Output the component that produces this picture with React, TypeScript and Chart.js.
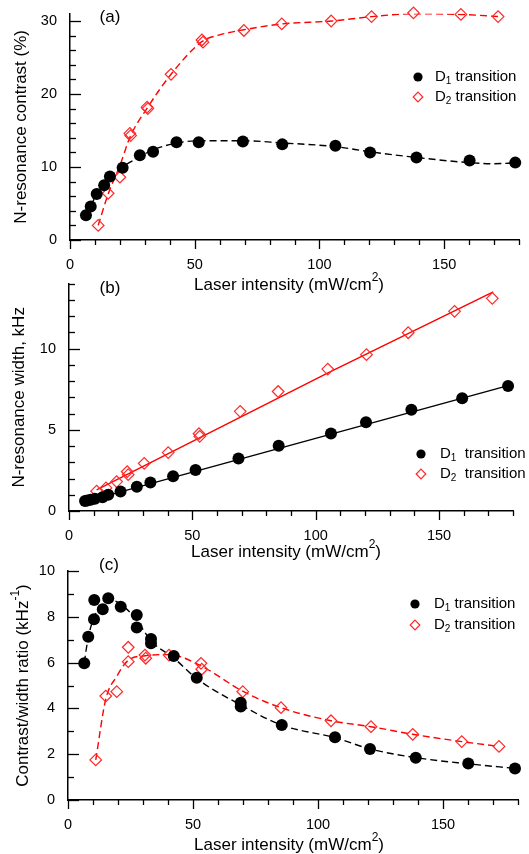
import React, { useEffect, useRef } from 'react';
import { Chart, registerables } from 'chart.js';

Chart.register(...registerables);

// ---------- Panel (a): N-resonance contrast (%) ----------
const a1X = [6.4, 8.3, 10.7, 13.7, 16.0, 21.1, 28.0, 33.3, 42.7, 51.6, 69.3, 85.1, 106.4, 120.3, 138.9, 160.2, 178.5];
const a1Y = [3.4, 4.6, 6.3, 7.5, 8.7, 9.9, 11.6, 12.1, 13.4, 13.4, 13.5, 13.1, 12.9, 12.0, 11.3, 10.9, 10.6];
const a2X = [11.3, 15.3, 20.0, 24.0, 24.3, 30.9, 31.2, 40.5, 52.9, 53.3, 69.7, 84.9, 104.7, 120.9, 137.7, 156.7, 171.6];
const a2Y = [2.0, 6.4, 8.6, 14.6, 14.3, 18.2, 18.0, 22.7, 27.4, 27.1, 28.7, 29.6, 30.0, 30.6, 31.1, 30.9, 30.6];
const fitA1X = [6.4, 8.3, 10.7, 13.7, 16, 21, 28, 33, 43, 52, 69, 85, 106, 120, 139, 160, 170, 178.5];
const fitA1Y = [3.4, 4.7, 6.2, 7.5, 8.6, 10.0, 11.4, 12.3, 13.3, 13.6, 13.6, 13.3, 12.8, 12.1, 11.3, 10.6, 10.45, 10.55];
const fitA2X = [11.3, 15.3, 20, 24.2, 31, 40.5, 53, 60, 69.7, 85, 105, 121, 138, 157, 172];
const fitA2Y = [2.0, 6.3, 10.2, 14.2, 18.1, 22.7, 27.2, 28.1, 28.8, 29.6, 30.0, 30.6, 31.0, 30.9, 30.6];

// ---------- Panel (b): N-resonance width, kHz ----------
const b1X = [6.5, 7.4, 8.8, 10.5, 13.6, 15.9, 20.9, 27.5, 33.0, 42.2, 51.3, 68.7, 85.0, 106.2, 120.4, 138.8, 159.4, 178.0];
const b1Y = [0.61, 0.65, 0.69, 0.75, 0.85, 1.0, 1.2, 1.5, 1.75, 2.14, 2.52, 3.23, 4.02, 4.78, 5.47, 6.24, 6.95, 7.7];
const b2X = [11.2, 15.0, 19.3, 23.6, 24.0, 30.5, 40.2, 52.7, 53.0, 69.4, 84.8, 104.9, 120.6, 137.5, 156.3, 171.6];
const b2Y = [1.22, 1.42, 1.81, 2.42, 2.24, 2.93, 3.6, 4.76, 4.6, 6.14, 7.36, 8.74, 9.63, 10.98, 12.3, 13.1];
const fitB1X = [6.5, 178];
const fitB1Y = [0.58, 7.72];
const fitB2X = [11.2, 105, 172];
const fitB2Y = [1.3, 8.5, 13.5];

// ---------- Panel (c): Contrast/width ratio ----------
const c1X = [6.5, 8.1, 10.4, 10.5, 13.9, 16.1, 21.1, 27.5, 27.5, 33.2, 33.2, 42.3, 51.5, 69.1, 69.1, 85.5, 106.8, 120.8, 139.1, 160.1, 178.8];
const c1Y = [5.97, 7.13, 7.89, 8.73, 8.33, 8.81, 8.44, 8.08, 7.53, 7.03, 6.84, 6.29, 5.34, 4.25, 4.08, 3.27, 2.74, 2.23, 1.85, 1.59, 1.38];
const c2X = [11.1, 15.1, 19.5, 24.1, 24.1, 30.8, 31.1, 40.4, 53.2, 53.5, 69.9, 85.2, 105.2, 121.2, 137.9, 157.5, 172.4];
const c2Y = [1.75, 4.54, 4.73, 6.67, 6.04, 6.33, 6.19, 6.33, 5.97, 5.71, 4.73, 4.03, 3.46, 3.2, 2.87, 2.55, 2.34];
const fitC1X = [6.5, 8.1, 10.5, 13.9, 16.1, 21.1, 27.5, 33.2, 42.3, 51.5, 69.1, 85.5, 106.8, 120.8, 139.1, 160.1, 178.8];
const fitC1Y = [6.0, 7.1, 8.0, 8.55, 8.75, 8.55, 7.85, 6.95, 6.2, 5.3, 4.15, 3.27, 2.72, 2.23, 1.85, 1.58, 1.38];
const fitC2X = [11.1, 15.1, 19.5, 24.1, 30.9, 40.4, 53.3, 69.9, 85.2, 105.2, 121.2, 137.9, 157.5, 172.4];
const fitC2Y = [1.75, 4.4, 5.4, 6.1, 6.3, 6.35, 5.85, 4.75, 4.03, 3.46, 3.2, 2.87, 2.55, 2.34];

// ---------- Axis ticks ----------
const xMin = 0;
const xMax = 180;
const xMajor = 50;
const xMinor = 10;

const FONT = '"Liberation Sans", Arial, Helvetica, sans-serif';
const RED = 'rgb(255,0,0)';
const RED_MK = 'rgb(255,40,40)';

type Part = { t: string; s?: 'sup' | 'sub' };

const xTitleParts: Part[] = [{ t: 'Laser intensity (mW/cm' }, { t: '2', s: 'sup' }, { t: ')' }];

function zip(xs: number[], ys: number[]) {
  return xs.map((x, i) => ({ x, y: ys[i] }));
}

function drawRich(ctx: CanvasRenderingContext2D, parts: Part[], cx: number, cy: number, fs: number, rotate: boolean, align: 'center' | 'left') {
  ctx.save();
  ctx.translate(cx, cy);
  if (rotate) ctx.rotate(-Math.PI / 2);
  ctx.textBaseline = 'middle';
  ctx.textAlign = 'left';
  ctx.fillStyle = '#000';
  let w = 0;
  for (const p of parts) {
    ctx.font = `${p.s ? Math.round(fs * 0.68) : fs}px ${FONT}`;
    w += ctx.measureText(p.t).width;
  }
  let x = align === 'center' ? -w / 2 : 0;
  for (const p of parts) {
    const size = p.s ? Math.round(fs * 0.68) : fs;
    const dy = p.s === 'sup' ? -fs * 0.42 : p.s === 'sub' ? fs * 0.3 : 0;
    ctx.font = `${size}px ${FONT}`;
    ctx.fillText(p.t, x, dy);
    x += ctx.measureText(p.t).width;
  }
  ctx.restore();
}

interface Panel {
  top: number;
  height: number;
  padTop: number;
  padRight: number;
  yWidth: number;
  xHeight: number;
  yMax: number;
  yMajor: number;
  yMinor: number;
  label: string;
  labelX: number;
  labelY: number;
  yTitle: Part[];
  yTitleX: number;
  xTitleX: number;
  xTitleY: number;
  legX: number;
  legY1: number;
  legY2: number;
  legTextX: number;
  legText: string;
  dashed: boolean;
  s1: { x: number; y: number }[];
  s2: { x: number; y: number }[];
  f1: { x: number; y: number }[];
  f2: { x: number; y: number }[];
}

const panels: Panel[] = [
  {
    top: 0, height: 300, padTop: 13, padRight: 10, yWidth: 70, xHeight: 60,
    yMax: 31, yMajor: 10, yMinor: 2,
    label: '(a)', labelX: 110, labelY: 17,
    yTitle: [{ t: 'N-resonance contrast (%)' }], yTitleX: 21,
    xTitleX: 289, xTitleY: 285,
    legX: 418, legY1: 77, legY2: 97, legTextX: 435, legText: ' transition',
    dashed: true,
    s1: zip(a1X, a1Y), s2: zip(a2X, a2Y), f1: zip(fitA1X, fitA1Y), f2: zip(fitA2X, fitA2Y),
  },
  {
    top: 270, height: 295, padTop: 11, padRight: 16, yWidth: 69, xHeight: 54,
    yMax: 14, yMajor: 5, yMinor: 1,
    label: '(b)', labelX: 110, labelY: 18,
    yTitle: [{ t: 'N-resonance width, kHz' }], yTitleX: 19.5,
    xTitleX: 286, xTitleY: 282,
    legX: 421, legY1: 184, legY2: 204, legTextX: 440, legText: '  transition',
    dashed: false,
    s1: zip(b1X, b1Y), s2: zip(b2X, b2Y), f1: zip(fitB1X, fitB1Y), f2: zip(fitB2X, fitB2Y),
  },
  {
    top: 555, height: 299, padTop: 16, padRight: 11, yWidth: 68, xHeight: 54,
    yMax: 10, yMajor: 2, yMinor: 1,
    label: '(c)', labelX: 109, labelY: 10,
    yTitle: [{ t: 'Contrast/width ratio (kHz' }, { t: '-1', s: 'sup' }, { t: ')' }], yTitleX: 23,
    xTitleX: 289, xTitleY: 290,
    legX: 415, legY1: 49, legY2: 70, legTextX: 434, legText: ' transition',
    dashed: true,
    s1: zip(c1X, c1Y), s2: zip(c2X, c2Y), f1: zip(fitC1X, fitC1Y), f2: zip(fitC2X, fitC2Y),
  },
];

function makeDecor(p: Panel) {
  return {
    id: 'decor' + p.label,
    afterDraw(chart: any) {
      const ctx: CanvasRenderingContext2D = chart.ctx;
      const xs = chart.scales.x;
      const ys = chart.scales.y;
      const area = chart.chartArea;
      ctx.save();
      ctx.strokeStyle = '#000';
      ctx.lineWidth = 1.3;
      // x ticks (outward, downward)
      for (let v = xMin; v <= xMax + 1e-9; v += xMinor) {
        const px = Math.round(xs.getPixelForValue(v)) + 0.5;
        const major = Math.abs(v % xMajor) < 1e-6;
        const len = major ? 9 : 5;
        ctx.beginPath();
        ctx.moveTo(px, area.bottom);
        ctx.lineTo(px, area.bottom + len);
        ctx.stroke();
      }
      // y ticks (inward, to the right)
      for (let v = 0; v <= p.yMax + 1e-9; v += p.yMinor) {
        const py = Math.round(ys.getPixelForValue(v)) + 0.5;
        const major = Math.abs(v % p.yMajor) < 1e-6;
        const len = major ? 11 : 6;
        ctx.beginPath();
        ctx.moveTo(area.left, py);
        ctx.lineTo(area.left + len, py);
        ctx.stroke();
      }
      ctx.restore();

      // panel label
      ctx.save();
      ctx.font = `17px ${FONT}`;
      ctx.fillStyle = '#000';
      ctx.textAlign = 'center';
      ctx.textBaseline = 'middle';
      ctx.fillText(p.label, p.labelX, p.labelY);
      ctx.restore();

      // axis titles
      drawRich(ctx, p.yTitle, p.yTitleX, (area.top + area.bottom) / 2, 17, true, 'center');
      drawRich(ctx, xTitleParts, p.xTitleX, p.xTitleY, 17, false, 'center');

      // legend
      ctx.save();
      ctx.fillStyle = '#000';
      ctx.beginPath();
      ctx.arc(p.legX, p.legY1, 4.6, 0, Math.PI * 2);
      ctx.fill();
      ctx.strokeStyle = RED_MK;
      ctx.lineWidth = 1.2;
      const r = 4.8;
      ctx.beginPath();
      ctx.moveTo(p.legX, p.legY2 - r);
      ctx.lineTo(p.legX + r, p.legY2);
      ctx.lineTo(p.legX, p.legY2 + r);
      ctx.lineTo(p.legX - r, p.legY2);
      ctx.closePath();
      ctx.stroke();
      ctx.restore();
      drawRich(ctx, [{ t: 'D' }, { t: '1', s: 'sub' }, { t: p.legText }], p.legTextX, p.legY1, 15, false, 'left');
      drawRich(ctx, [{ t: 'D' }, { t: '2', s: 'sub' }, { t: p.legText }], p.legTextX, p.legY2, 15, false, 'left');
    },
  };
}

function PanelChart({ p }: { p: Panel }) {
  const ref = useRef<HTMLCanvasElement | null>(null);
  useEffect(() => {
    if (!ref.current) return;
    const dash = p.dashed ? [7, 4] : [];
    const chart = new Chart(ref.current, {
      type: 'scatter',
      data: {
        datasets: [
          {
            data: p.s1, pointStyle: 'circle', pointRadius: 6, pointBackgroundColor: '#000',
            pointBorderColor: '#000', pointBorderWidth: 0, showLine: false, order: 0, clip: false,
          } as any,
          {
            data: p.s2, pointStyle: 'rectRot', pointRadius: 5.8, pointBackgroundColor: 'rgba(0,0,0,0)',
            pointBorderColor: RED_MK, pointBorderWidth: 1.2, showLine: false, order: 1, clip: false,
          } as any,
          {
            data: p.f1, showLine: true, pointRadius: 0, borderColor: '#000', borderWidth: 1.4,
            borderDash: dash, cubicInterpolationMode: 'monotone', order: 3, fill: false,
          } as any,
          {
            data: p.f2, showLine: true, pointRadius: 0, borderColor: RED, borderWidth: 1.4,
            borderDash: dash, cubicInterpolationMode: 'monotone', order: 2, fill: false,
          } as any,
        ],
      },
      options: {
        animation: false,
        responsive: false,
        devicePixelRatio: 1,
        layout: { padding: { top: p.padTop, right: p.padRight, left: 0, bottom: 0 } },
        plugins: { legend: { display: false }, tooltip: { enabled: false } },
        scales: {
          x: {
            type: 'linear', min: xMin, max: xMax,
            grid: { display: false },
            border: { display: true, color: '#000', width: 1.5 },
            ticks: { stepSize: xMajor, includeBounds: false, color: '#000', padding: 8, font: { family: FONT, size: 14.5 } },
            afterFit: (s: any) => { s.height = p.xHeight; },
          },
          y: {
            type: 'linear', min: 0, max: p.yMax,
            grid: { display: false },
            border: { display: true, color: '#000', width: 1.5 },
            ticks: { stepSize: p.yMajor, includeBounds: false, color: '#000', padding: 5, font: { family: FONT, size: 14.5 } },
            afterFit: (s: any) => { s.width = p.yWidth; },
          },
        },
      } as any,
      plugins: [makeDecor(p)],
    });
    return () => chart.destroy();
  }, [p]);
  return (
    <canvas
      ref={ref}
      width={529}
      height={p.height}
      style={{ position: 'absolute', left: 0, top: p.top, width: 529, height: p.height }}
    />
  );
}

export default function App() {
  return (
    <div style={{ position: 'absolute', left: 0, top: 0, width: 529, height: 854, background: '#fff' }}>
      {panels.map((p) => (
        <PanelChart key={p.label} p={p} />
      ))}
    </div>
  );
}
